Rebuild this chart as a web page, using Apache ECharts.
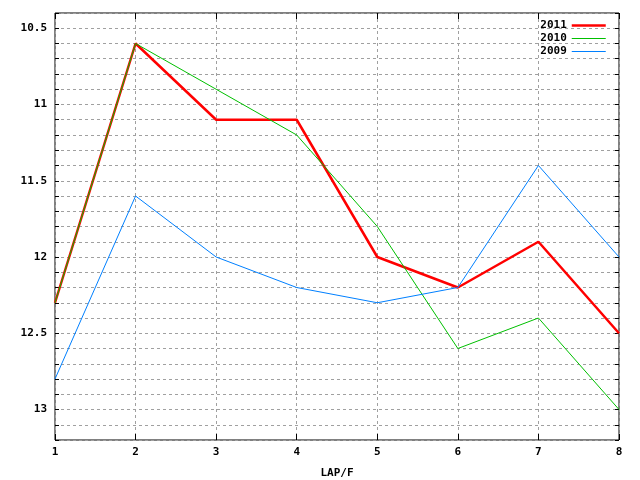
<!DOCTYPE html>
<html>
<head>
<meta charset="utf-8">
<script src="https://cdn.jsdelivr.net/npm/echarts@6/dist/echarts.min.js"></script>
<style>
html, body { margin: 0; padding: 0; background: #fff; }
#chart { width: 640px; height: 480px; }
</style>
</head>
<body>
<div id="chart"></div>
<script>
// laps on the x axis
var laps = [1, 2, 3, 4, 5, 6, 7, 8];
// lap times per year
var y2011 = [12.3, 10.6, 11.1, 11.1, 12.0, 12.2, 11.9, 12.5];
var y2010 = [12.3, 10.6, 10.9, 11.2, 11.8, 12.6, 12.4, 13.0];
var y2009 = [12.8, 11.6, 12.0, 12.2, 12.3, 12.2, 11.4, 12.0];
var seriesNames = ['2011', '2010', '2009'];

function pairs(vals) {
	var out = [];
	for (var i = 0; i < laps.length; i++) {
		out.push([laps[i], vals[i]]);
	}
	return out;
}

var font = 'DejaVu Sans Mono';
var gridLine = { show: true, lineStyle: { color: '#a0a0a0', type: [3, 3], width: 1 } };

var myChart = echarts.init(document.getElementById('chart'));
var option = {
	animation: false,
	backgroundColor: '#fff',
	grid: {
		left: 55, right: 21, top: 13, bottom: 40,
		outerBoundsMode: 'none',
		containLabel: false,
		show: true, borderColor: '#000', borderWidth: 1
	},
	legend: {
		orient: 'vertical',
		right: 33,
		top: 19,
		padding: 0,
		align: 'right',
		itemWidth: 34,
		itemHeight: 13,
		itemGap: 0,
		itemStyle: { opacity: 0 },
		data: [
			{ name: seriesNames[0], lineStyle: { width: 2.5 } },
			{ name: seriesNames[1], lineStyle: { width: 1 } },
			{ name: seriesNames[2], lineStyle: { width: 1 } }
		],
		textStyle: { fontFamily: font, fontWeight: 'bold', fontSize: 11, lineHeight: 13, height: 13, color: '#000', padding: [0, 0, 0, 0] }
	},
	xAxis: [{
		type: 'value',
		min: 1, max: 8, interval: 1,
		name: 'LAP/F',
		nameLocation: 'middle',
		nameGap: 28,
		nameTextStyle: { fontFamily: font, fontWeight: 'bold', fontSize: 11, color: '#000' },
		axisLine: { show: false },
		axisTick: { show: true, inside: true, length: 6, lineStyle: { color: '#000' } },
		axisLabel: { fontFamily: font, fontWeight: 'bold', fontSize: 11, color: '#000', margin: 7 },
		splitLine: gridLine
	}, {
		type: 'value',
		position: 'top',
		min: 1, max: 8, interval: 1,
		axisLine: { show: false },
		axisTick: { show: true, inside: true, length: 6, lineStyle: { color: '#000' } },
		axisLabel: { show: false },
		splitLine: { show: false }
	}],
	yAxis: [{
		type: 'value',
		inverse: true,
		min: 10.4, max: 13.2, interval: 0.1,
		axisLine: { show: false },
		axisTick: { show: true, inside: true, length: 4, lineStyle: { color: '#000' } },
		axisLabel: {
			fontFamily: font, fontWeight: 'bold', fontSize: 11, color: '#000', margin: 8,
			formatter: function (v) {
				var h = Math.round(v * 10);
				if (h % 5 != 0) return '';
				return String(h / 10);
			}
		},
		splitLine: gridLine
	}, {
		type: 'value',
		position: 'right',
		inverse: true,
		min: 10.4, max: 13.2, interval: 0.1,
		axisLine: { show: false },
		axisTick: { show: true, inside: true, length: 4, lineStyle: { color: '#000' } },
		axisLabel: { show: false },
		splitLine: { show: false }
	}],
	series: [{
		name: '2011', type: 'line', symbol: 'none',
		color: '#ff0000',
		lineStyle: { width: 2.5, color: '#ff0000' },
		data: pairs(y2011)
	}, {
		name: '2010', type: 'line', symbol: 'none',
		color: '#00c000',
		lineStyle: { width: 1, color: '#00c000' },
		data: pairs(y2010)
	}, {
		name: '2009', type: 'line', symbol: 'none',
		color: '#0080ff',
		lineStyle: { width: 1, color: '#0080ff' },
		data: pairs(y2009)
	}]
};
myChart.setOption(option);
</script>
</body>
</html>
